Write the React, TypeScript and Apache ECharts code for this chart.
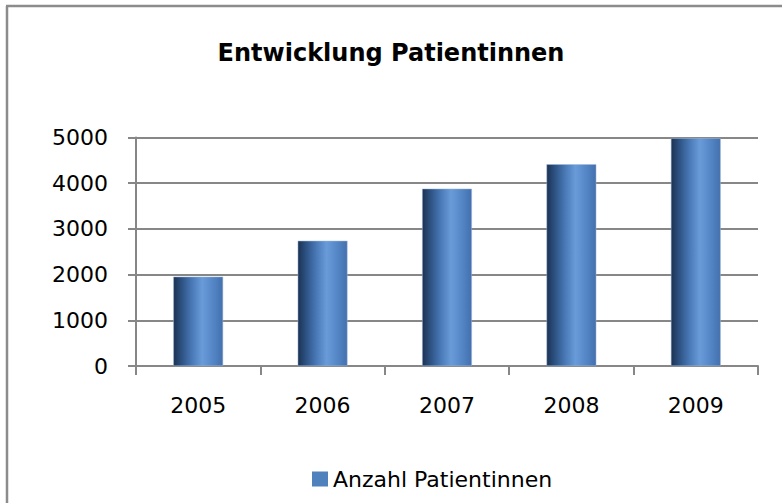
import React, { useEffect, useRef } from "react";
import * as echarts from "echarts";

const categories: string[] = ["2005", "2006", "2007", "2008", "2009"];
const patientValues: number[] = [1955, 2740, 3880, 4415, 4985];
const seriesName = "Anzahl Patientinnen";
const titleText = "Entwicklung Patientinnen";

const FONT = "'DejaVu Sans', sans-serif";
const GRAY = "#878787";

export default function App() {
  const ref = useRef<HTMLDivElement>(null);
  useEffect(() => {
    if (!ref.current) return;
    const chart = echarts.init(ref.current, undefined, { renderer: "svg" });
    const barGradient = new echarts.graphic.LinearGradient(0, 0, 1, 0, [
      { offset: 0, color: "#1b3252" },
      { offset: 0.18, color: "#2f5587" },
      { offset: 0.38, color: "#4a7ab8" },
      { offset: 0.58, color: "#6a9bd9" },
      { offset: 0.8, color: "#5486c6" },
      { offset: 1, color: "#4470ad" },
    ]);
    chart.setOption({
      animation: false,
      backgroundColor: "#ffffff",
      title: {
        text: titleText,
        left: "center",
        top: 36,
        textStyle: { fontFamily: FONT, fontSize: 24, fontWeight: "bold", color: "#000000" },
      },
      legend: {
        data: [{ name: seriesName, icon: "rect", itemStyle: { color: "#4f81bd", borderWidth: 0 } }],
        left: 307,
        top: 463,
        itemWidth: 16,
        itemHeight: 15,
        textStyle: { fontFamily: FONT, fontSize: 22, color: "#000000" },
      },
      grid: { left: 136, right: 24, top: 137.5, bottom: 137, containLabel: false },
      xAxis: {
        type: "category",
        data: categories,
        axisLine: { show: true, lineStyle: { color: GRAY, width: 2 } },
        axisTick: { show: true, length: 9, alignWithLabel: false, lineStyle: { color: GRAY, width: 2 } },
        axisLabel: { fontFamily: FONT, fontSize: 22, color: "#000000", margin: 28 },
      },
      yAxis: {
        type: "value",
        min: 0,
        max: 5000,
        interval: 1000,
        axisLine: { show: true, lineStyle: { color: GRAY, width: 2 } },
        axisTick: { show: true, length: 8, lineStyle: { color: GRAY, width: 2 } },
        axisLabel: {
          fontFamily: FONT,
          fontSize: 22,
          color: "#000000",
          margin: 28,
          formatter: (v: number) => String(v),
        },
        splitLine: { show: true, lineStyle: { color: GRAY, width: 2 } },
      },
      series: [
        {
          name: seriesName,
          type: "bar",
          data: patientValues,
          barWidth: "40%",
          itemStyle: { color: barGradient, borderColor: "#9fb8da", borderWidth: 0.5 },
        },
      ],
      graphic: [
        { type: "line", shape: { x1: 7, y1: 6, x2: 7, y2: 503 }, style: { stroke: "#8c8c8c", lineWidth: 2.5 } },
        { type: "line", shape: { x1: 6, y1: 6, x2: 782, y2: 6 }, style: { stroke: "#8c8c8c", lineWidth: 2.5 } },
      ],
    });
    return () => chart.dispose();
  }, []);
  return (
    <div
      ref={ref}
      style={{ position: "fixed", left: 0, top: 0, width: 782, height: 503, background: "#fff" }}
    />
  );
}
